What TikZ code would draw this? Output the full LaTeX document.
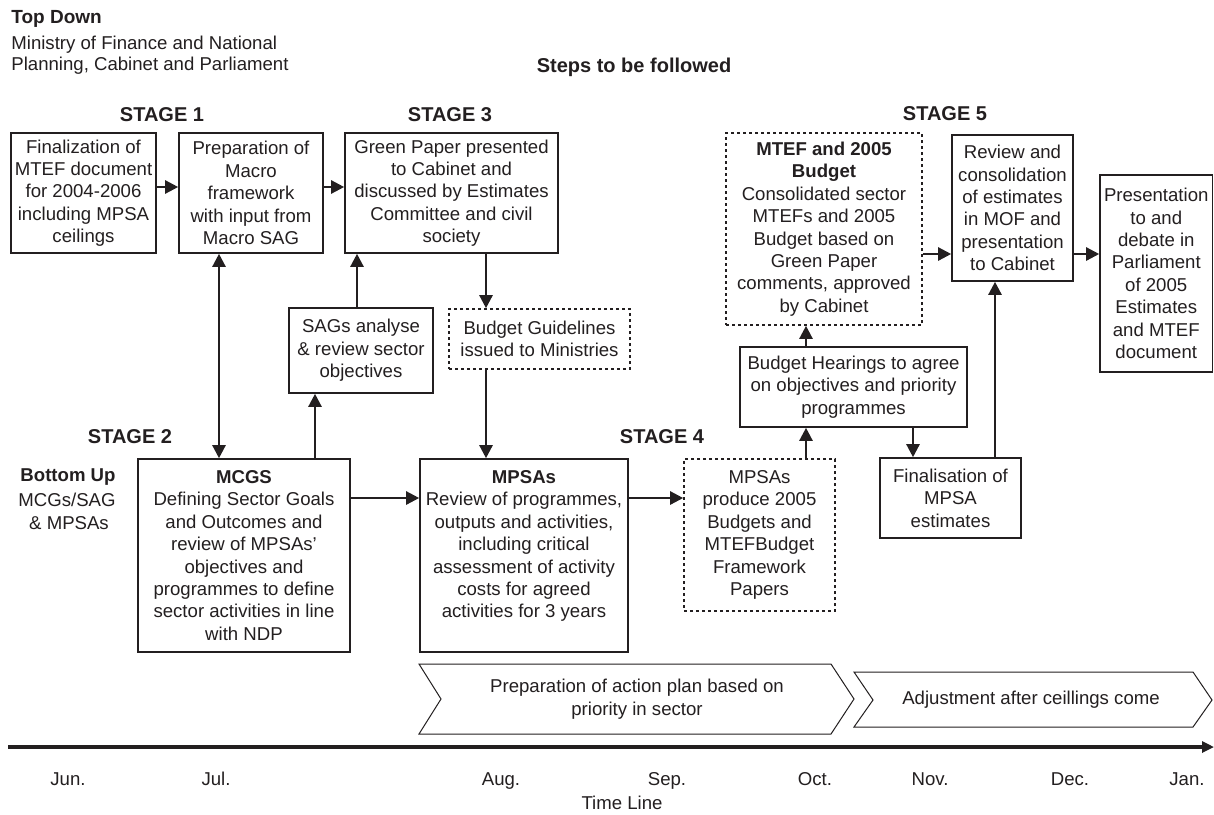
\documentclass[tikz,border=0pt]{standalone}
\usepackage{fontspec}
\setmainfont{Liberation Sans}
\usetikzlibrary{fit,arrows.meta,calc}
\definecolor{ink}{RGB}{35,31,32}
\newcommand{\txtfnt}{\fontsize{9.3}{11.2}\selectfont}
\newcommand{\stgfnt}{\fontsize{10}{12}\selectfont\bfseries}
\begin{document}
\begin{tikzpicture}[x=0.5pt,y=-0.5pt,
  box/.style={draw=ink, line width=0.8pt, inner sep=0pt},
  dbox/.style={box, dash pattern=on 1.5pt off 1.5pt},
  txt/.style={font=\txtfnt, text=ink, inner sep=0pt, align=center},
  arr/.style={draw=ink, line width=1.2pt, -{Triangle[length=6.5pt,width=6.5pt]}},
  darr/.style={draw=ink, line width=1.2pt, {Triangle[length=6.5pt,width=6.5pt]}-{Triangle[length=6.5pt,width=6.5pt]}},
  lbl/.style={font=\txtfnt, text=ink, inner sep=0pt},
  month/.style={lbl, anchor=base},
  stagelbl/.style={font=\stgfnt, text=ink, inner sep=0pt},
  chev/.style={draw=ink, line width=0.5pt}]
\fill[white] (0,0) rectangle (1214,814);
\useasboundingbox (0,0) rectangle (1214,814);

% header
\node[lbl, anchor=west, font=\fontsize{9.5}{11}\selectfont\bfseries] (topdown) at (11,19) {Top Down};
\node[lbl, anchor=west] (ministry) at (11,45) {Ministry of Finance and National};
\node[lbl, anchor=west] (planning) at (11,66) {Planning, Cabinet and Parliament};
\node[stagelbl] (steps) at (634,67) {Steps to be followed};

% stage labels
\node[stagelbl] (s1) at (162,115) {STAGE 1};
\node[stagelbl] (s3) at (450,115) {STAGE 3};
\node[stagelbl] (s5) at (945,114) {STAGE 5};
\node[stagelbl] (s2) at (130,437) {STAGE 2};
\node[stagelbl] (s4) at (662,437) {STAGE 4};

% left labels
\node[lbl, font=\txtfnt\bfseries] (bu) at (68,477) {Bottom Up};
\node[lbl] (bu2) at (67,500) {MCGs/SAG};
\node[lbl] (bu3) at (69,523) {\& MPSAs};

% boxes (frames)
\node[box, fit={(11,133) (156,253)}] (box1) {};
\node[box, fit={(179,133) (323,253)}] (box2) {};
\node[box, fit={(345,133) (558,253)}] (box3) {};
\node[dbox, fit={(726,133) (922,325)}] (mtef) {};
\node[box, fit={(952,135) (1073,281)}] (review) {};
\node[box, fit={(1100,175) (1212.5,372)}] (pres) {};
\node[box, fit={(289,308) (433,393)}] (sags) {};
\node[dbox, fit={(449,309) (630,369)}] (bg) {};
\node[box, fit={(740,347) (967,427)}] (hear) {};
\node[box, fit={(138,459) (350,652)}] (mcgs) {};
\node[box, fit={(420,459) (628,652)}] (mpsas) {};
\node[dbox, fit={(684,459) (835,611)}] (produce) {};
\node[box, fit={(880,458) (1021,538)}] (final) {};

% box texts
\node[txt] (box1t) at (box1.center) {Finalization of\\MTEF document\\for 2004-2006\\including MPSA\\ceilings};
\node[txt] (box2t) at (box2.center) {Preparation of\\Macro\\framework\\with input from\\Macro SAG};
\node[txt] (box3t) at (box3.center) {Green Paper presented\\to Cabinet and\\discussed by Estimates\\Committee and civil\\society};
\node[txt] (mteft) at (mtef.center) {\textbf{MTEF and 2005}\\\textbf{Budget}\\Consolidated sector\\MTEFs and 2005\\Budget based on\\Green Paper\\comments, approved\\by Cabinet};
\node[txt] (reviewt) at (review.center) {Review and\\consolidation\\of estimates\\in MOF and\\presentation\\to Cabinet};
\node[txt] (prest) at (pres.center) {Presentation\\to and\\debate in\\Parliament\\of 2005\\Estimates\\and MTEF\\document};
\node[txt] (sagst) at (sags.center) {SAGs analyse\\\& review sector\\objectives};
\node[txt] (bgt) at (bg.center) {Budget Guidelines\\issued to Ministries};
\node[txt] (heart) at (hear.center) {Budget Hearings to agree\\on objectives and priority\\programmes};
\node[txt] (mcgst) at (mcgs.center) {\textbf{MCGS}\\Defining Sector Goals\\and Outcomes and\\review of MPSAs’\\objectives and\\programmes to define\\sector activities in line\\with NDP};
\node[txt, anchor=north] (mpsast) at ([yshift=-6pt]mpsas.north) {\textbf{MPSAs}\\Review of programmes,\\outputs and activities,\\including critical\\assessment of activity\\costs for agreed\\activities for 3 years};
\node[txt] (producet) at (produce.center) {MPSAs\\produce 2005\\Budgets and\\MTEFBudget\\Framework\\Papers};
\node[txt] (finalt) at (final.center) {Finalisation of\\MPSA\\estimates};

% helper coordinates
\coordinate (r1) at (0,187);
\coordinate (r2) at (0,254);
\coordinate (r3) at (0,498);
\coordinate (c219) at (219,0);
\coordinate (c315) at (315,0);
\coordinate (c357) at (357,0);
\coordinate (c486) at (486,0);
\coordinate (c806) at (806,0);
\coordinate (c913) at (913,0);
\coordinate (c995) at (995,0);

% connectors
\draw[arr] (box1.east |- r1) -- (box2.west |- r1);
\draw[arr] (box2.east |- r1) -- (box3.west |- r1);
\draw[darr] (box2.south -| c219) -- (mcgs.north -| c219);
\draw[arr] (mcgs.north -| c315) -- (sags.south -| c315);
\draw[arr] (sags.north -| c357) -- (box3.south -| c357);
\draw[arr] (box3.south -| c486) -- (bg.north -| c486);
\draw[arr] (bg.south -| c486) -- (mpsas.north -| c486);
\draw[arr] (mcgs.east |- r3) -- (mpsas.west |- r3);
\draw[arr] (mpsas.east |- r3) -- (produce.west |- r3);
\draw[arr] (produce.north -| c806) -- (hear.south -| c806);
\draw[arr] (hear.north -| c806) -- (mtef.south -| c806);
\draw[arr] (hear.south -| c913) -- (final.north -| c913);
\draw[arr] (final.north -| c995) -- (review.south -| c995);
\draw[arr] (mtef.east |- r2) -- (review.west |- r2);
\draw[arr] (review.east |- r2) -- (pres.west |- r2);

% chevrons
\draw[chev] (419,664) -- (831,664) -- (854,699) -- (831,734) -- (419,734) -- (441,699) -- cycle;
\node[txt] (chev1) at (637,699) {Preparation of action plan based on\\priority in sector};
\draw[chev] (854,672) -- (1193,672) -- (1212,700) -- (1193,727) -- (854,727) -- (873,700) -- cycle;
\node[lbl] (chev2) at (1031,700) {Adjustment after ceillings come};

% timeline
\coordinate (tl0) at (8,747);
\coordinate (tl1) at (1214,747);
\draw[draw=ink, line width=1.6pt, -{Triangle[length=6pt,width=5.5pt]}] (tl0) -- (tl1);
\node[month] (m1) at (68,785) {Jun.};
\node[month] (m2) at (216,785) {Jul.};
\node[month] (m3) at (501,785) {Aug.};
\node[month] (m4) at (667,785) {Sep.};
\node[month] (m5) at (815,785) {Oct.};
\node[month] (m6) at (930,785) {Nov.};
\node[month] (m7) at (1070,785) {Dec.};
\node[month] (m8) at (1187,785) {Jan.};
\node[lbl] (tline) at (622,803) {Time Line};
\end{tikzpicture}
\end{document}
